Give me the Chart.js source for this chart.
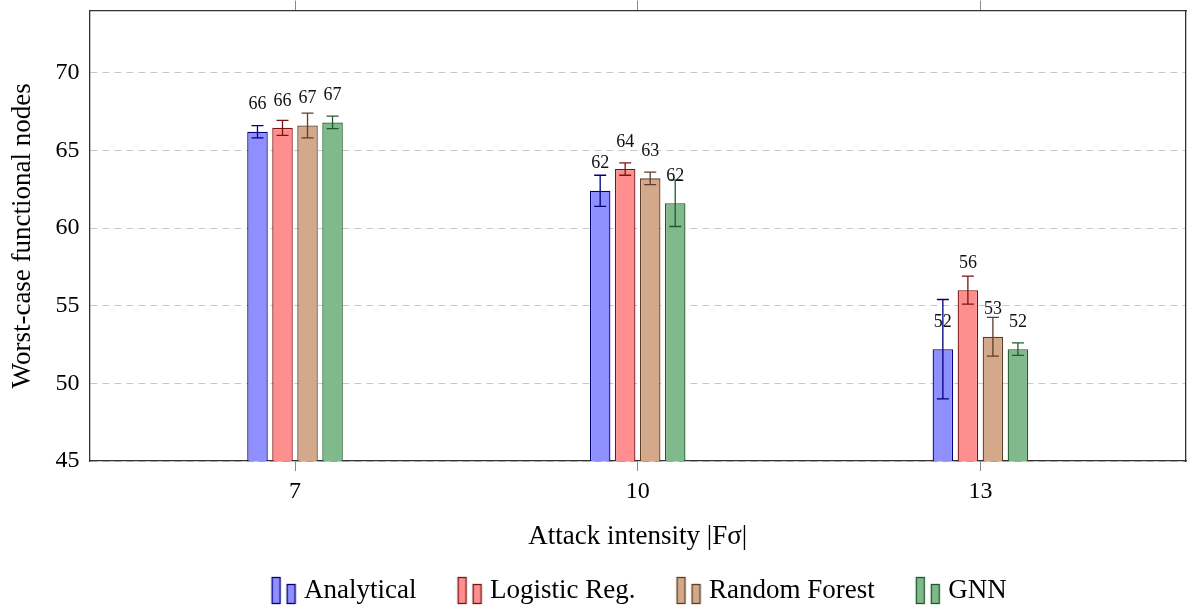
<!DOCTYPE html>
<html>
<head>
<meta charset="utf-8">
<script src="https://cdn.jsdelivr.net/npm/chart.js@4/dist/chart.umd.min.js"></script>
<style>
html,body{margin:0;padding:0;background:#fff;}
#wrap{width:1188px;height:609px;}
</style>
</head>
<body>
<div id="wrap"><canvas id="c" width="1188" height="609"></canvas></div>
<script>
// ---- data ----
const categories = [7, 10, 13];
const seriesNames = ['Analytical', 'Logistic Reg.', 'Random Forest', 'GNN'];
const analytical = [66.2, 62.4, 52.2];
const analyticalErr = [0.4, 1.0, 3.2];
const logistic = [66.45, 63.8, 56.0];
const logisticErr = [0.48, 0.4, 0.9];
const randomForest = [66.6, 63.2, 53.0];
const randomForestErr = [0.8, 0.4, 1.25];
const gnn = [66.8, 61.6, 52.2];
const gnnErr = [0.4, 1.5, 0.4];
const yTicks = [45, 50, 55, 60, 65, 70];

const values = [analytical, logistic, randomForest, gnn];
const errors = [analyticalErr, logisticErr, randomForestErr, gnnErr];
const fills = ['#8f8fff', '#ff8f8f', '#d4a98b', '#80b98b'];
const borders = ['#00007a', '#7a1414', '#5e3d26', '#1e5a2a'];

const FONT = "'Liberation Serif', 'Times New Roman', serif";
Chart.defaults.font.family = FONT;
Chart.defaults.color = '#000';

function makeIcon(fill, stroke) {
  const c = document.createElement('canvas');
  c.width = 34; c.height = 29;
  const g = c.getContext('2d');
  g.fillStyle = fill; g.strokeStyle = stroke; g.lineWidth = 1.3;
  g.fillRect(9.5, 1.5, 8, 26); g.strokeRect(9.5, 1.5, 8, 26);
  g.fillRect(24.5, 8.5, 8, 19); g.strokeRect(24.5, 8.5, 8, 19);
  return c;
}
const icons = fills.map((f, i) => makeIcon(f, borders[i]));

const datasets = seriesNames.map((name, i) => ({
  label: name,
  data: categories.map((c, j) => ({x: c, y: values[i][j]})),
  backgroundColor: fills[i],
  borderColor: borders[i],
  borderWidth: 1.3,
  borderSkipped: false,
  categoryPercentage: 0.292,
  barPercentage: 0.82
}));

const errorBars = {
  id: 'errorBars',
  afterDatasetsDraw(chart) {
    const ctx = chart.ctx, ys = chart.scales.y;
    chart.data.datasets.forEach((ds, i) => {
      const meta = chart.getDatasetMeta(i);
      meta.data.forEach((bar, j) => {
        const v = values[i][j], e = errors[i][j];
        const t = ys.getPixelForValue(v + e), b = ys.getPixelForValue(v - e);
        ctx.save();
        ctx.strokeStyle = borders[i];
        ctx.lineWidth = 1.3;
        ctx.beginPath();
        ctx.moveTo(bar.x, t); ctx.lineTo(bar.x, b);
        ctx.moveTo(bar.x - 6, t); ctx.lineTo(bar.x + 6, t);
        ctx.moveTo(bar.x - 6, b); ctx.lineTo(bar.x + 6, b);
        ctx.stroke();
        ctx.restore();
      });
    });
  }
};

const valueLabels = {
  id: 'valueLabels',
  afterDatasetsDraw(chart) {
    const ctx = chart.ctx;
    chart.data.datasets.forEach((ds, i) => {
      const meta = chart.getDatasetMeta(i);
      meta.data.forEach((bar, j) => {
        ctx.save();
        ctx.font = '18px ' + FONT;
        ctx.fillStyle = '#111';
        ctx.textAlign = 'center';
        ctx.textBaseline = 'middle';
        ctx.fillText(String(Math.round(values[i][j])), bar.x, bar.y - 27);
        ctx.restore();
      });
    });
  }
};

// centre the legend under the plot area (as in the reference)
const centerLegend = {
  id: 'centerLegend',
  afterLayout(chart) {
    const lg = chart.legend, ca = chart.chartArea;
    if (!lg) return;
    const off = (ca.left + ca.right) / 2 - (lg.left + lg.right) / 2;
    lg.left += off; lg.right += off;
  }
};

const setXTicks = (s) => { s.ticks = categories.map(v => ({value: v})); };

new Chart(document.getElementById('c'), {
  type: 'bar',
  data: {datasets},
  options: {
    responsive: false,
    animation: false,
    devicePixelRatio: 1,
    layout: {padding: {top: 0, right: 2, bottom: -5, left: 0}},
    scales: {
      x: {
        type: 'linear',
        position: 'bottom',
        min: 5.2, max: 14.8,
        offset: false,
        afterBuildTicks: setXTicks,
        grid: {drawOnChartArea: false, drawTicks: true, tickLength: 10, color: '#8a8a8a', offset: false},
        border: {display: true, color: '#333', width: 1.3},
        ticks: {font: {size: 24}, padding: 6, color: '#000'},
        title: {display: true, text: 'Attack intensity |F\u03C3|', font: {size: 27}, color: '#000', padding: {top: 9, bottom: -14.2}}
      },
      x2: {
        type: 'linear',
        position: 'top',
        min: 5.2, max: 14.8,
        offset: false,
        afterBuildTicks: setXTicks,
        grid: {drawOnChartArea: false, drawTicks: true, tickLength: 10, color: '#8a8a8a', offset: false},
        border: {display: true, color: '#333', width: 1.3},
        ticks: {display: false}
      },
      y: {
        min: 45, max: 74,
        afterBuildTicks: (s) => { s.ticks = yTicks.map(v => ({value: v})); },
        grid: {drawTicks: false, color: '#c8c8c8', lineWidth: 1},
        border: {display: true, color: '#333', width: 1.3, dash: [7, 5]},
        ticks: {font: {size: 24, lineHeight: 0.05}, padding: 10, color: '#000'},
        title: {display: true, text: 'Worst-case functional nodes', font: {size: 27}, color: '#000', padding: {top: 7, bottom: 6}}
      },
      y2: {
        position: 'right',
        min: 45, max: 74,
        grid: {drawOnChartArea: false, drawTicks: false},
        border: {display: true, color: '#333', width: 1.3},
        ticks: {display: false}
      }
    },
    plugins: {
      legend: {
        position: 'bottom',
        labels: {
          usePointStyle: true,
          pointStyleWidth: 22,
          padding: 38,
          font: {size: 27},
          color: '#000',
          generateLabels(chart) {
            const items = Chart.defaults.plugins.legend.labels.generateLabels(chart);
            items.forEach((it, i) => { it.pointStyle = icons[i]; });
            return items;
          }
        }
      },
      tooltip: {enabled: false}
    }
  },
  plugins: [errorBars, valueLabels, centerLegend]
});
</script>
</body>
</html>
